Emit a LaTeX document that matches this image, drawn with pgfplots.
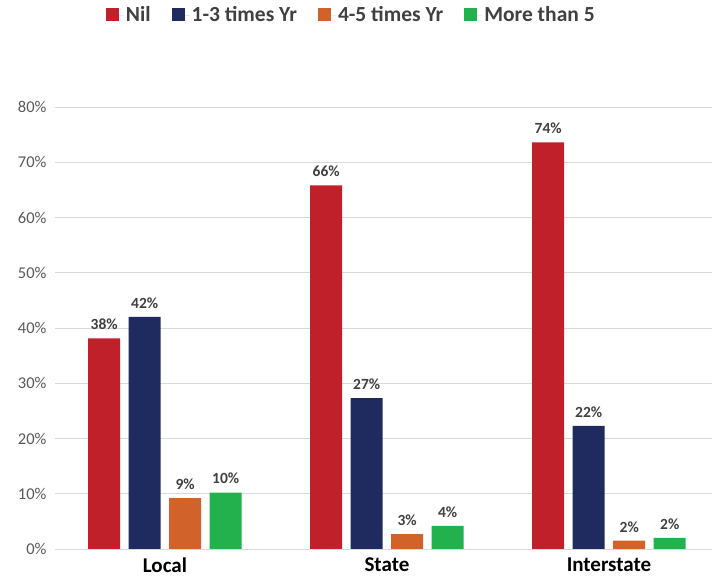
\documentclass[border=0pt]{standalone}
\usepackage{pgfplots}
\pgfplotsset{compat=1.18}
\usepackage{fontspec}
\setmainfont{Carlito}
\definecolor{cRed}{HTML}{C0202A}
\definecolor{cNavy}{HTML}{1F2A5E}
\definecolor{cOrange}{HTML}{D0622A}
\definecolor{cGreen}{HTML}{22B14C}
\definecolor{txtgray}{HTML}{595959}
\definecolor{lblgray}{HTML}{404040}
\definecolor{gridgray}{HTML}{D9D9D9}
\begin{document}
\begin{tikzpicture}
\path[use as bounding box] (-55pt,-36pt) rectangle (660pt,549pt);
\begin{axis}[
  at={(0,0)}, anchor=south west,
  scale only axis,
  width=657pt, height=442pt,
  xmin=-0.495, xmax=2.464,
  ymin=0, ymax=80,
  ytick={0,10,...,80},
  yticklabel={\pgfmathprintnumber{\tick}\%},
  /pgf/number format/assume math mode=true,
  yticklabel style={font=\fontsize{16.5}{18}\selectfont, text=txtgray, xshift=-5pt},
  xtick={0,1,2},
  xticklabels={Local,State,Interstate},
  xticklabel style={font=\fontsize{21}{23}\selectfont\bfseries, text=black, yshift=-5pt},
  major tick length=0pt,
  axis line style={draw=none},
  ymajorgrids,
  grid style={gridgray, line width=0.9pt},
  ybar=8.5pt,
  bar width=32pt,
  point meta=explicit symbolic,
  nodes near coords,
  nodes near coords style={font=\fontsize{15.5}{17}\selectfont\bfseries, text=lblgray, yshift=5pt},
  legend columns=4,
  legend style={at={(0.451,1.208)}, anchor=center, draw=none, fill=none,
    font=\fontsize{21.5}{23}\selectfont\bfseries, text=lblgray,
    /tikz/every even column/.append style={column sep=19pt}},
  legend image code/.code={\fill[#1] (0pt,-6pt) rectangle (13pt,7pt); \path (0pt,0pt) -- (18pt,0pt);},
]
\addplot[fill=cRed, draw=none] coordinates {(0,38.1) [38\%] (1,65.8) [66\%] (2,73.6) [74\%]};
\addplot[fill=cNavy, draw=none] coordinates {(0,42.0) [42\%] (1,27.3) [27\%] (2,22.3) [22\%]};
\addplot[fill=cOrange, draw=none] coordinates {(0,9.2) [9\%] (1,2.7) [3\%] (2,1.5) [2\%]};
\addplot[fill=cGreen, draw=none] coordinates {(0,10.2) [10\%] (1,4.2) [4\%] (2,2.0) [2\%]};
\legend{Nil,1-3 times Yr,4-5 times Yr,More than 5}
\end{axis}
\end{tikzpicture}
\end{document}
